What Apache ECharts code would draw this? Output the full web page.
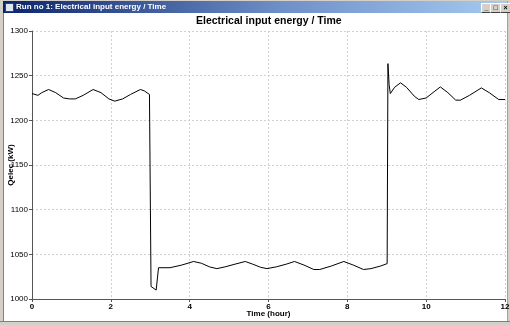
<!DOCTYPE html>
<html><head><meta charset="utf-8">
<script src="https://cdn.jsdelivr.net/npm/echarts@6/dist/echarts.min.js"></script>
<style>
html,body{margin:0;padding:0;width:510px;height:325px;overflow:hidden;background:#fff;font-family:"Liberation Sans",Arial,sans-serif;}
#chart{position:absolute;left:0;top:0;width:510px;height:325px;z-index:2;}
.fr{position:absolute;background:#d4d0c8;z-index:1;}
#tb{position:absolute;left:3px;top:1px;width:504px;height:12px;z-index:3;background:linear-gradient(to right,#0a246a,#6f8fc8 55%,#a6caf0);}
#tt{position:absolute;left:13px;top:0px;color:#fff;font:bold 8px "Liberation Sans",Arial,sans-serif;line-height:12px;white-space:nowrap;}
#ic{position:absolute;left:2px;top:2px;width:7px;height:7px;background:#dfe8f0;border:1px solid #304070;}
.bt{position:absolute;top:2px;width:9px;height:8px;background:#d4d0c8;border:1px solid;border-color:#fff #404040 #404040 #fff;font:bold 7px Arial;line-height:8px;text-align:center;color:#000;}
</style></head><body>
<div id="chart"></div>
<div class="fr" style="left:0;top:0;width:3px;height:325px;border-right:1px solid #808080"></div>
<div class="fr" style="right:0;top:0;width:2px;height:325px;border-left:1px solid #a0a0a0"></div>
<div class="fr" style="left:0;bottom:0;width:510px;height:3px;border-top:1px solid #808080"></div>
<div class="fr" style="left:0;top:0;width:510px;height:1px"></div>
<div id="tb"><div id="ic"></div><div id="tt">Run no 1: Electrical input energy / Time</div>
<div class="bt" style="left:478px">_</div><div class="bt" style="left:487px">□</div><div class="bt" style="left:497px">×</div></div>
<script>
var xTicks = [0, 2, 4, 6, 8, 10, 12];
var yTicks = [1000, 1050, 1100, 1150, 1200, 1250, 1300];
var hours = [0, 0.05, 0.15, 0.25, 0.42, 0.6, 0.8, 0.85, 0.95, 1.1, 1.3, 1.55, 1.75, 1.95, 2.1, 2.3, 2.5, 2.75, 2.85, 2.98,
  3.02, 3.15, 3.21, 3.5, 3.8, 4.1, 4.3, 4.5, 4.69, 4.9, 5.15, 5.41, 5.6, 5.8, 5.96, 6.2, 6.45, 6.66, 6.9, 7.15, 7.3, 7.6, 7.91, 8.15, 8.41, 8.6, 8.85, 9.01,
  9.03, 9.06, 9.09, 9.2, 9.35, 9.5, 9.7, 9.81, 10.0, 10.2, 10.36, 10.55, 10.75, 10.78, 10.87, 11.1, 11.4, 11.6, 11.84, 11.87, 12];
var qelec = [1230, 1230, 1228, 1231, 1234.5, 1231, 1225, 1226, 1224, 1224, 1228, 1234.5, 1231, 1224, 1221.5, 1224, 1229, 1234.5, 1233, 1229,
  1014, 1010, 1035, 1035, 1038, 1042, 1040, 1036, 1034, 1036, 1039, 1042, 1039, 1035.5, 1034, 1036, 1039, 1042, 1038, 1033, 1033, 1037, 1042, 1038, 1033, 1034, 1037, 1039.6,
  1263.5, 1240, 1230, 1237, 1242, 1237, 1227, 1223.3, 1225, 1232, 1237.4, 1231, 1222.6, 1224, 1222.6, 1228, 1236.3, 1231, 1223.3, 1225, 1223.3];
var data = hours.map(function (h, i) { return [h, qelec[i]]; });
var chart = echarts.init(document.getElementById('chart'), null, {renderer: 'canvas'});
var lblFont = {fontFamily: 'Liberation Sans', fontSize: 8, color: '#000'};
chart.setOption({
  animation: false,
  backgroundColor: 'transparent',
  title: {text: 'Electrical input energy / Time', left: 196, top: 16, padding: 0,
    textStyle: {fontFamily: 'Liberation Sans', fontSize: 10.5, fontWeight: 'bold', color: '#000'}},
  grid: {left: 32, right: 5, top: 31, bottom: 26, containLabel: false, outerBoundsMode: 'none'},
  xAxis: {type: 'value', min: xTicks[0], max: xTicks[xTicks.length - 1], interval: 2,
    name: 'Time (hour)', nameLocation: 'middle', nameGap: 11, nameMoveOverlap: false,
    nameTextStyle: {fontFamily: 'Liberation Sans', fontSize: 8, fontWeight: 'bold', color: '#000'},
    axisLine: {lineStyle: {color: '#555', width: 1}},
    axisTick: {show: true, length: 3, lineStyle: {color: '#555'}},
    axisLabel: Object.assign({margin: 4, fontWeight: 'bold', formatter: function (v) { return String(v); }}, lblFont),
    splitLine: {show: true, lineStyle: {color: '#d0d0d0', type: [2, 2]}}},
  yAxis: {type: 'value', min: yTicks[0], max: yTicks[yTicks.length - 1], interval: 50,
    name: 'Qelec (kW)', nameLocation: 'middle', nameGap: 17, nameRotate: 90, nameMoveOverlap: false,
    nameTextStyle: {fontFamily: 'Liberation Sans', fontSize: 8, fontWeight: 'bold', color: '#000'},
    axisLine: {show: true, lineStyle: {color: '#555', width: 1}},
    axisTick: {show: true, length: 3, lineStyle: {color: '#555'}},
    axisLabel: Object.assign({margin: 4, formatter: function (v) { return String(v); }}, lblFont),
    splitLine: {show: true, lineStyle: {color: '#d0d0d0', type: [2, 2]}}},
  series: [{type: 'line', data: data, showSymbol: false, symbol: 'none',
    lineStyle: {color: '#000', width: 1}, smooth: false}]
});
</script>
</body></html>
